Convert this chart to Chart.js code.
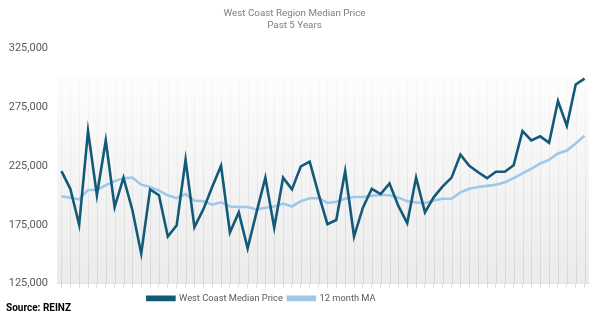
<!DOCTYPE html>
<html>
<head>
<meta charset="utf-8">
<script src="https://cdn.jsdelivr.net/npm/chart.js@4/dist/chart.umd.min.js"></script>
<style>
html,body{margin:0;padding:0;background:#fff;}
#c{display:block;}
</style>
</head>
<body>
<canvas id="c" width="602" height="323"></canvas>
<script>
const categories = [
 "Feb-16","Mar-16","Apr-16","May-16","Jun-16","Jul-16","Aug-16","Sep-16","Oct-16","Nov-16","Dec-16","Jan-17",
 "Feb-17","Mar-17","Apr-17","May-17","Jun-17","Jul-17","Aug-17","Sep-17","Oct-17","Nov-17","Dec-17","Jan-18",
 "Feb-18","Mar-18","Apr-18","May-18","Jun-18","Jul-18","Aug-18","Sep-18","Oct-18","Nov-18","Dec-18","Jan-19",
 "Feb-19","Mar-19","Apr-19","May-19","Jun-19","Jul-19","Aug-19","Sep-19","Oct-19","Nov-19","Dec-19","Jan-20",
 "Feb-20","Mar-20","Apr-20","May-20","Jun-20","Jul-20","Aug-20","Sep-20","Oct-20","Nov-20","Dec-20","Jan-21"
];
const medianPrice = [
 220500,205500,175000,254500,200000,246500,190000,215000,187500,150500,205000,200000,
 165000,174500,230000,173000,188000,207000,225000,168500,185500,155000,185500,215000,
 172500,215000,205000,224500,228500,201000,175500,179000,220500,165000,189500,205500,
 201000,210000,191000,176500,215000,185500,198500,207500,215000,234500,225000,219500,
 214500,220000,220000,225500,254500,246500,250000,244500,280000,259000,294000,299000
];
const movingAvg = [
 199000,198000,196500,204500,204500,208500,212000,214500,215000,209000,207000,204000,
 200000,197500,201000,195500,195000,192000,194000,190500,190000,190000,188000,189500,
 190500,193000,190500,195000,197500,197500,193500,194500,197000,198500,198500,199500,
 200500,200000,198000,195000,194000,193500,195500,197000,197000,202500,205500,207000,
 208000,209000,211000,214500,218500,222500,227000,230000,235500,238000,244000,250500
];
const yTicks = [125000,175000,225000,275000,325000];
const panelTop = 300000;
const titleLines = ["West Coast Region Median Price","Past 5 Years"];
const seriesNames = ["West Coast Median Price","12 month MA"];
const sourceText = "Source: REINZ";

const backdrop = {
  id:'backdrop',
  afterLayout(chart){
    const lg = chart.legend;
    if (lg) { lg.left -= 33; lg.right -= 33; }
  },
  beforeDatasetsDraw(chart){
    const {ctx, chartArea:a, scales:{x,y}} = chart;
    const top = y.getPixelForValue(panelTop);
    const bottom = y.getPixelForValue(yTicks[0]);
    ctx.save();
    const g = ctx.createLinearGradient(0, top, 0, bottom);
    g.addColorStop(0, '#fdfdfd');
    g.addColorStop(1, '#ebebeb');
    ctx.fillStyle = g;
    ctx.fillRect(a.left, top, a.right - a.left, bottom - top);
    const s = ctx.createLinearGradient(0, top, 0, bottom);
    s.addColorStop(0, 'rgba(0,0,0,0.015)');
    s.addColorStop(1, 'rgba(0,0,0,0.09)');
    ctx.strokeStyle = s;
    ctx.lineWidth = 1;
    for (let i = 0; i < categories.length; i++) {
      const px = Math.round(x.getPixelForValue(i)) + 0.5;
      ctx.beginPath();
      ctx.moveTo(px, top);
      ctx.lineTo(px, bottom);
      ctx.stroke();
    }
    ctx.restore();
  },
  afterDraw(chart){
    const ctx = chart.ctx;
    ctx.save();
    ctx.font = 'bold 10px Roboto';
    ctx.fillStyle = '#000';
    ctx.textBaseline = 'middle';
    ctx.fillText(sourceText, 6, 308);
    ctx.restore();
  }
};

new Chart(document.getElementById('c'), {
  type:'line',
  data:{
    labels: categories,
    datasets:[
      {label: seriesNames[0], data: medianPrice, borderColor:'#145a78', backgroundColor:'#145a78', borderWidth:2.6, pointRadius:0, tension:0},
      {label: seriesNames[1], data: movingAvg, borderColor:'#9dc8ea', backgroundColor:'#9dc8ea', borderWidth:2.6, pointRadius:0, tension:0}
    ]
  },
  options:{
    responsive:false,
    devicePixelRatio:1,
    animation:false,
    layout:{padding:{left:0,right:13,top:0,bottom:10}},
    plugins:{
      title:{display:true, text:titleLines, color:'#7f7f7f', font:{family:'Roboto', size:9.8, weight:'normal', lineHeight:1.22}, padding:{top:8,bottom:16}},
      legend:{position:'bottom', labels:{boxWidth:27, boxHeight:3, padding:5, color:'#595959', font:{family:'Roboto', size:9.3}}},
      tooltip:{enabled:false}
    },
    scales:{
      x:{
        type:'category', offset:true,
        grid:{display:true, drawOnChartArea:false, drawTicks:true, tickLength:4, color:'#d9d9d9'},
        border:{display:true, color:'#d9d9d9'},
        ticks:{display:false},
        afterFit(s){ s.height = 5; }
      },
      y:{
        min:125000, max:325000,
        afterBuildTicks(s){ s.ticks = yTicks.map(v=>({value:v})); },
        grid:{display:false, drawTicks:false},
        border:{display:false},
        ticks:{padding:9, color:'#595959', font:{family:'Roboto', size:11}, callback:v=>v.toLocaleString('en-US')},
        afterFit(s){ s.width = 57; }
      }
    }
  },
  plugins:[backdrop]
});
</script>
</body>
</html>
